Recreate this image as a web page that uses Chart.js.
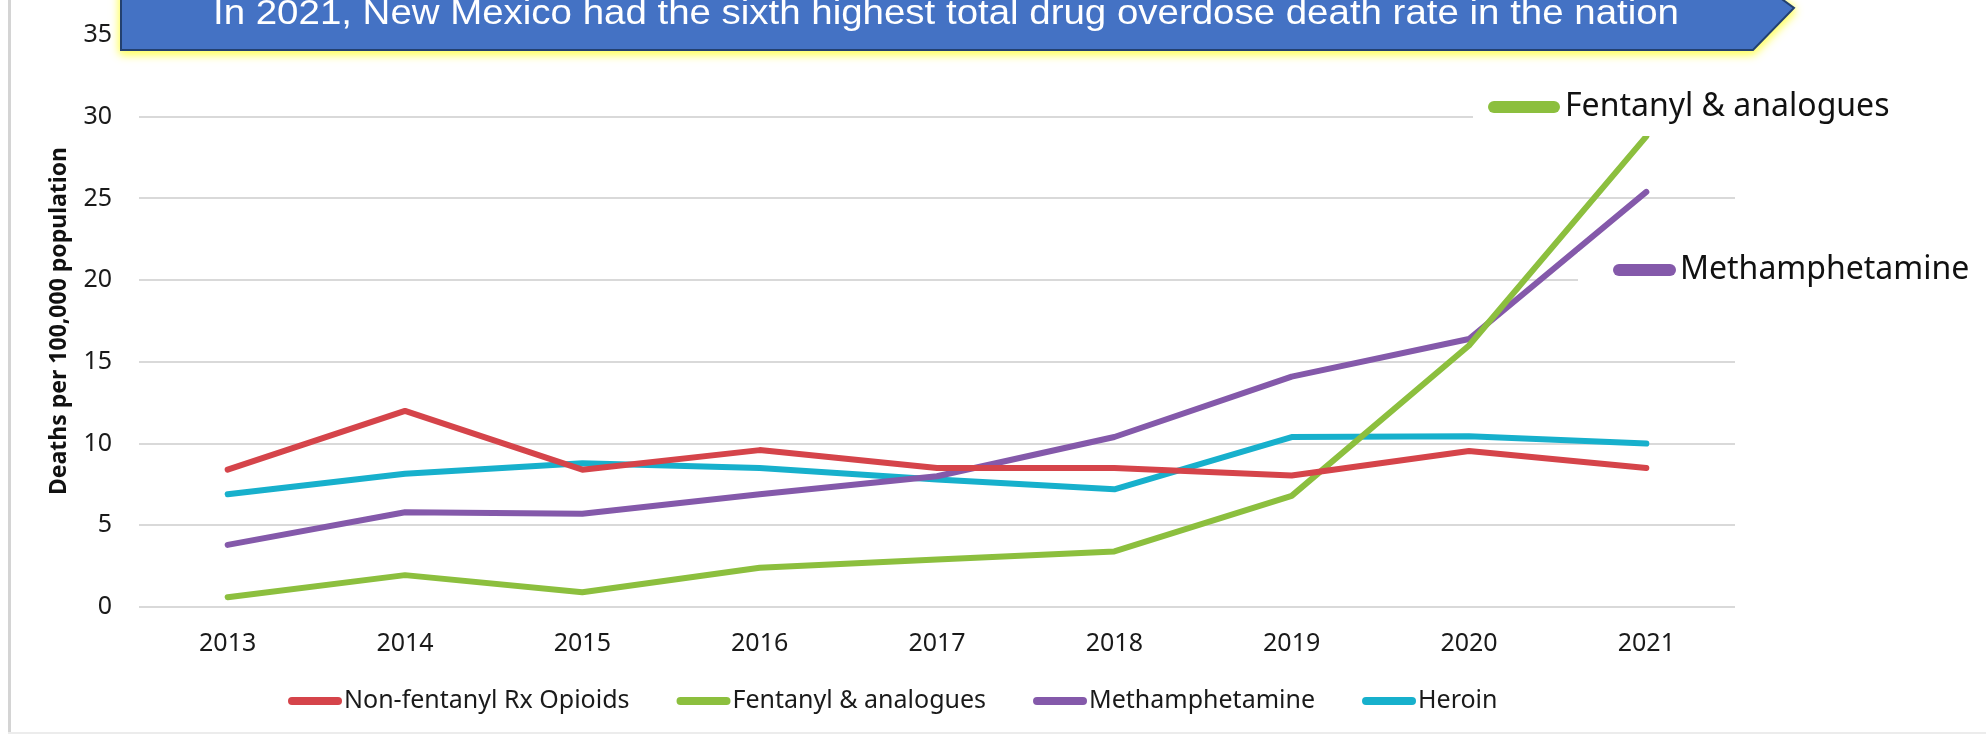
<!DOCTYPE html>
<html>
<head>
<meta charset="utf-8">
<title>New Mexico overdose death rates by drug</title>
<script src="https://cdn.jsdelivr.net/npm/chart.js@4.4.1/dist/chart.umd.min.js"></script>
<style>
  body { margin: 0; background: #fff; }
  #wrap { position: relative; width: 1986px; height: 736px; overflow: hidden; }
  #frame { position: absolute; left: 8px; top: 0; width: 3px; height: 733px; background: #d4d4d4; }
  #bottomrule { position: absolute; left: 8px; top: 732px; width: 1978px; height: 2px; background: #ececec; }
  #chart { position: absolute; left: 0; top: 0; }
  #banner { position: absolute; left: 0; top: 0; overflow: visible;
            filter: drop-shadow(0 3px 4px #ffff66) drop-shadow(0 0 3px #ffff99); }
</style>
</head>
<body>
<div id="wrap">
  <div id="frame"></div>
  <div id="bottomrule"></div>
  <canvas id="chart" width="1986" height="736"></canvas>
  <svg id="banner" width="1986" height="70">
    <polygon points="121,-40 1728,-40 1794,8 1753,50 121,50" fill="#4472C4" stroke="#23406f" stroke-width="2"/>
    <text x="213" y="24" fill="#fff" font-family="Liberation Sans, Arial, sans-serif" font-size="35"
          textLength="1466" lengthAdjust="spacingAndGlyphs">In 2021, New Mexico had the sixth highest total drug overdose death rate in the nation</text>
  </svg>
</div>
<script>
// years on the x axis
const years = ['2013', '2014', '2015', '2016', '2017', '2018', '2019', '2020', '2021'];

// deaths per 100,000 population
const rxOpioids = [8.4, 12.0, 8.4, 9.6, 8.5, 8.5, 8.05, 9.55, 8.5];
const fentanyl  = [0.6, 1.95, 0.9, 2.4, 2.9, 3.4, 6.8, 16.0, 28.8];
const meth      = [3.8, 5.8, 5.7, 6.9, 8.0, 10.4, 14.1, 16.4, 25.4];
const heroin    = [6.9, 8.15, 8.8, 8.5, 7.8, 7.2, 10.4, 10.45, 10.0];

const seriesNames  = ['Non-fentanyl Rx Opioids', 'Fentanyl & analogues', 'Methamphetamine', 'Heroin'];
const seriesColors = ['#D5444A', '#8CBF3E', '#8459AA', '#17B0CC'];

const FONT = '"Noto Sans", "Open Sans", sans-serif';

// labels sitting at the right end (Fentanyl + Meth), white box behind them
const endLabels = {
  id: 'endLabels',
  afterDatasetsDraw(chart) {
    const ctx = chart.ctx;
    const items = [
      { ds: 1, box: [1473, 66, 513, 70], x0: 1494, x1: 1554, tx: 1565, y: 107 },
      { ds: 2, box: [1578, 252, 408, 46], x0: 1619, x1: 1670, tx: 1680, y: 270 }
    ];
    ctx.save();
    items.forEach(it => {
      const ds = chart.data.datasets[it.ds];
      ctx.fillStyle = '#fff';
      ctx.fillRect(it.box[0], it.box[1], it.box[2], it.box[3]);
      ctx.strokeStyle = ds.borderColor;
      ctx.lineWidth = 12;
      ctx.lineCap = 'round';
      ctx.beginPath();
      ctx.moveTo(it.x0, it.y);
      ctx.lineTo(it.x1, it.y);
      ctx.stroke();
      ctx.fillStyle = '#111';
      ctx.font = '32px ' + FONT;
      ctx.textBaseline = 'middle';
      ctx.fillText(ds.label, it.tx, it.y);
    });
    ctx.restore();
  }
};

// legend row under the x axis
const bottomLegend = {
  id: 'bottomLegend',
  afterDraw(chart) {
    const ctx = chart.ctx;
    const y = 701;
    let x = 288;
    ctx.save();
    ctx.font = '25px ' + FONT;
    ctx.textBaseline = 'middle';
    chart.data.datasets.forEach(ds => {
      ctx.strokeStyle = ds.borderColor;
      ctx.lineWidth = 8;
      ctx.lineCap = 'round';
      ctx.beginPath();
      ctx.moveTo(x + 4, y);
      ctx.lineTo(x + 50, y);
      ctx.stroke();
      x += 56;
      ctx.fillStyle = '#1a1a1a';
      ctx.fillText(ds.label, x, y);
      x += ctx.measureText(ds.label).width + 47;
    });
    ctx.restore();
  }
};

const values = [rxOpioids, fentanyl, meth, heroin];
const datasets = values.map((v, i) => ({
  label: seriesNames[i],
  data: v,
  borderColor: seriesColors[i],
  backgroundColor: seriesColors[i]
}));

new Chart(document.getElementById('chart'), {
  type: 'line',
  data: { labels: years, datasets: datasets },
  options: {
    responsive: false,
    animation: false,
    layout: { padding: { left: 0, right: 251, top: 35, bottom: 49 } },
    plugins: {
      legend: { display: false },
      tooltip: { enabled: false }
    },
    elements: {
      point: { radius: 0 },
      line: { borderWidth: 6, tension: 0, borderCapStyle: 'round', borderJoinStyle: 'round' }
    },
    scales: {
      x: {
        offset: true,
        grid: { display: false, drawTicks: false },
        border: { display: false },
        ticks: { font: { family: FONT, size: 25 }, color: '#1a1a1a', padding: 22, maxRotation: 0 },
        afterFit(s) { s.height = 80; }
      },
      y: {
        min: 0,
        max: 35,
        // invisible tick marks take the gap, so small padding doesn't push the plot down
        ticks: { stepSize: 5, padding: 5, font: { family: FONT, size: 25 }, color: '#1a1a1a' },
        grid: { color: '#d9d9d9', lineWidth: 2, drawTicks: true, tickLength: 22, tickColor: 'rgba(0,0,0,0)' },
        border: { display: false },
        title: {
          display: true,
          text: 'Deaths per 100,000 population',
          font: { family: FONT, size: 23, weight: 'bold' },
          color: '#111',
          padding: { top: 46, bottom: 0 }
        },
        afterFit(s) { s.width = 139; }
      }
    }
  },
  plugins: [endLabels, bottomLegend]
});
</script>
</body>
</html>
